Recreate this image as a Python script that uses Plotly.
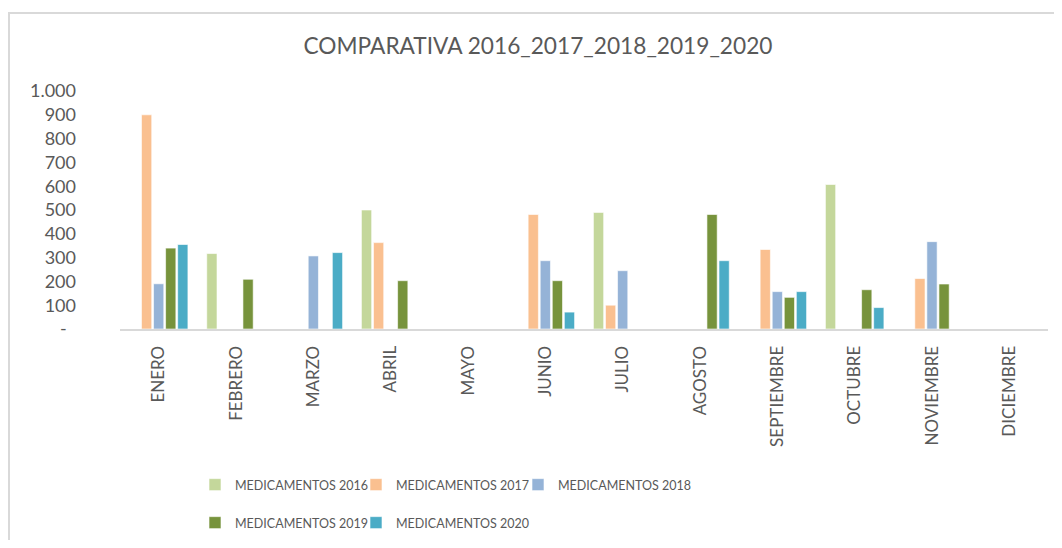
import plotly.graph_objects as go

months = ["ENERO", "FEBRERO", "MARZO", "ABRIL", "MAYO", "JUNIO", "JULIO",
          "AGOSTO", "SEPTIEMBRE", "OCTUBRE", "NOVIEMBRE", "DICIEMBRE"]

med_2016 = [None, 317, None, 500, None, None, 490, None, None, 607, None, None]
med_2017 = [900, None, None, 363, None, 481, 100, None, 334, None, 212, None]
med_2018 = [190, None, 307, None, None, 287, 245, None, 157, None, 367, None]
med_2019 = [340, 209, None, 203, None, 203, None, 481, 133, 165, 189, None]
med_2020 = [355, None, 321, None, None, 71, None, 287, 157, 90, None, None]

series_names = ["MEDICAMENTOS 2016", "MEDICAMENTOS 2017", "MEDICAMENTOS 2018",
                "MEDICAMENTOS 2019", "MEDICAMENTOS 2020"]
series_values = [med_2016, med_2017, med_2018, med_2019, med_2020]
colors = ["#C4D79B", "#FAC090", "#95B3D7", "#77933C", "#4BACC6"]

y_tickvals = [0, 100, 200, 300, 400, 500, 600, 700, 800, 900, 1000]
y_ticktext = ["-\u00a0\u00a0", "100", "200", "300", "400", "500", "600",
              "700", "800", "900", "1.000"]

FONT = "Lato, sans-serif"
TXT = "#595959"

# page has an 8px body margin: figure coordinates = screen coordinates - 8
OFF = 8
W, H = 1062 - 2 * OFF, 548 - 2 * OFF
L = 120 - OFF
R = W - (1048 - OFF)
T = 91 - OFF
B = H - (329 - OFF)
pw = W - L - R
ph = H - T - B

# legend text start positions and row centres (screen px)
legend_text_x = [235, 396, 558, 235, 396]
legend_row_y = [485, 485, 485, 523, 523]
legend_ids = ["legend", "legend2", "legend3", "legend4", "legend5"]

fig = go.Figure()
for name, vals, col, lg in zip(series_names, series_values, colors, legend_ids):
    fig.add_trace(go.Bar(
        x=months, y=vals, name=name, legend=lg, showlegend=True,
        marker=dict(color=col, line=dict(color="rgba(255,255,255,0.6)", width=1)),
    ))

def px_x(px):
    return (px - OFF - L) / pw

def px_y(py):
    return (H - B - (py - OFF)) / ph

legend_layouts = {}
for lg, tx, ty in zip(legend_ids, legend_text_x, legend_row_y):
    legend_layouts[lg] = dict(
        orientation="h", xref="container", yref="container",
        x=(tx - OFF - 40) / W, xanchor="left",
        y=1 - (ty - OFF) / H, yanchor="middle",
        font=dict(size=12.5, color=TXT, family=FONT),
        entrywidth=160, entrywidthmode="pixels",
        bgcolor="rgba(0,0,0,0)", borderwidth=0,
    )

fig.update_layout(
    width=W, height=H,
    margin=dict(l=L, r=R, t=T, b=B, autoexpand=False),
    paper_bgcolor="white", plot_bgcolor="white",
    font=dict(family=FONT, color=TXT),
    showlegend=True,
    barmode="group", bargap=0.22, bargroupgap=0.15,
    title=dict(text="COMPARATIVA 2016_2017_2018_2019_2020",
               x=(538 - OFF) / W, xref="container", xanchor="center",
               y=1 - (46 - OFF) / H, yref="container", yanchor="middle",
               font=dict(size=22.7, color=TXT, family=FONT)),
    xaxis=dict(type="category", showline=True, linecolor="#D9D9D9", linewidth=2,
               showgrid=False, ticks="", tickangle=-90, automargin=False,
               tickfont=dict(size=17, color=TXT), ticklabelstandoff=8),
    yaxis=dict(range=[0, 1000], tickvals=y_tickvals, ticktext=y_ticktext,
               showgrid=False, zeroline=False, showline=False, ticks="",
               automargin=False,
               tickfont=dict(size=18, color=TXT), ticklabelstandoff=43),
    shapes=[dict(type="rect", xref="paper", yref="paper",
                 x0=px_x(9), x1=px_x(1100), y0=px_y(600), y1=px_y(13),
                 line=dict(color="#D9D9D9", width=2), layer="below")],
    **legend_layouts,
)

fig.write_html("out.html")
